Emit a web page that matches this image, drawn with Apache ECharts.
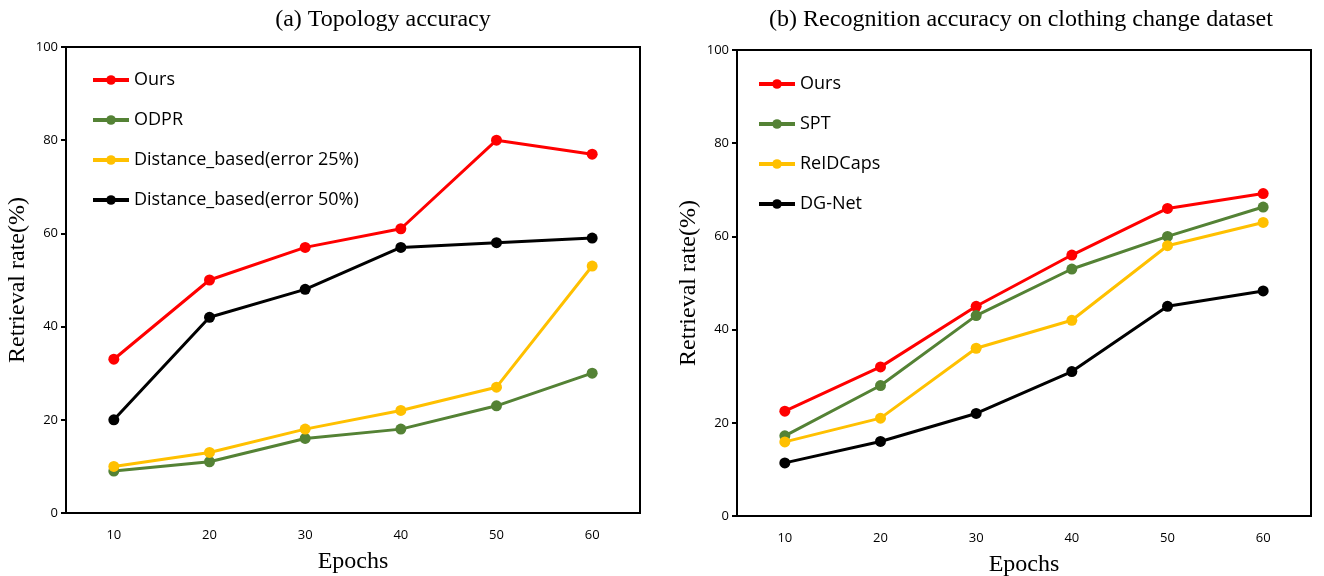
<!DOCTYPE html>
<html>
<head>
<meta charset="utf-8">
<script src="https://cdn.jsdelivr.net/npm/echarts@6/dist/echarts.min.js"></script>
<style>
  html, body { margin: 0; padding: 0; background: #fff; }
  #graph { width: 1324px; height: 576px; }
</style>
</head>
<body>
<div id="graph"></div>
<script>
// epochs shared by both panels
var epochs = ['10', '20', '30', '40', '50', '60'];
var yTicks = [0, 20, 40, 60, 80, 100];

// (a) Topology accuracy
var topoOurs = [33, 50, 57, 61, 80, 77];
var topoODPR = [9, 11, 16, 18, 23, 30];
var topoDist25 = [10, 13, 18, 22, 27, 53];
var topoDist50 = [20, 42, 48, 57, 58, 59];

// (b) Recognition accuracy on clothing change dataset
var recOurs = [22.5, 32, 45, 56, 66, 69.2];
var recSPT = [17.2, 28, 43, 53, 60, 66.3];
var recReID = [15.9, 21, 36, 42, 58, 63];
var recDGNet = [11.4, 16, 22, 31, 45, 48.3];

var RED = '#ff0000', GREEN = '#548235', YELLOW = '#ffc000', BLACK = '#000000';
var serif = '"Liberation Serif", "Times New Roman", serif';
var sans = '"Open Sans", "Noto Sans", sans-serif';

var myChart = echarts.init(document.getElementById('graph'));

function makeX(idx) {
  return {
    type: 'category', gridIndex: idx, data: epochs, boundaryGap: true,
    name: 'Epochs', nameLocation: 'middle', nameGap: 37,
    nameTextStyle: { fontFamily: serif, fontSize: 24, color: '#000' },
    axisLine: { lineStyle: { color: '#000', width: 2 } },
    axisTick: { alignWithLabel: true, length: 5, lineStyle: { color: '#000', width: 2 } },
    axisLabel: { fontFamily: sans, fontSize: 13, color: '#000', margin: 16 },
    splitLine: { show: false }
  };
}
function makeY(idx) {
  return {
    type: 'value', gridIndex: idx, min: yTicks[0], max: yTicks[yTicks.length - 1], interval: 20,
    name: 'Retrieval rate(%)', nameLocation: 'middle', nameGap: 36,
    nameTextStyle: { fontFamily: serif, fontSize: 24, color: '#000' },
    axisLine: { show: true, lineStyle: { color: '#000', width: 2 } },
    axisTick: { show: true, length: 5, lineStyle: { color: '#000', width: 2 } },
    axisLabel: { fontFamily: sans, fontSize: 13, color: '#000', margin: 8 },
    splitLine: { show: false }
  };
}
function makeLine(name, data, color, idx) {
  return {
    name: name, type: 'line', data: data, xAxisIndex: idx, yAxisIndex: idx,
    symbol: 'circle', symbolSize: 11,
    itemStyle: { color: color },
    lineStyle: { color: color, width: 3 },
    emphasis: { disabled: true }, animation: false
  };
}
function makeLegend(names, left, top) {
  return {
    data: names, orient: 'vertical', left: left, top: top,
    itemWidth: 36, itemHeight: 12, itemGap: 20,
    lineStyle: { width: 4 },
    textStyle: { fontFamily: sans, fontSize: 18, color: '#000', lineHeight: 20 }
  };
}

var option = {
  animation: false,
  title: [
    { text: '(a) Topology accuracy', left: 378, top: 3, textAlign: 'center',
      textStyle: { fontFamily: serif, fontSize: 24, fontWeight: 'normal', color: '#000' } },
    { text: '(b) Recognition accuracy on clothing change dataset', left: 1016, top: 3, textAlign: 'center',
      textStyle: { fontFamily: serif, fontSize: 24, fontWeight: 'normal', color: '#000' } }
  ],
  legend: [
    makeLegend(['Ours', 'ODPR', 'Distance_based(error 25%)', 'Distance_based(error 50%)'], 86, 65),
    makeLegend(['Ours ', 'SPT', 'ReIDCaps', 'DG-Net'], 752, 69)
  ],
  grid: [
    { left: 66, right: 684, top: 47, bottom: 63, show: true, borderColor: '#000', borderWidth: 2,
      outerBoundsMode: 'none' },
    { left: 737, right: 13, top: 50, bottom: 60, show: true, borderColor: '#000', borderWidth: 2,
      outerBoundsMode: 'none' }
  ],
  xAxis: [makeX(0), makeX(1)],
  yAxis: [makeY(0), makeY(1)],
  series: [
    makeLine('Ours', topoOurs, RED, 0),
    makeLine('ODPR', topoODPR, GREEN, 0),
    makeLine('Distance_based(error 25%)', topoDist25, YELLOW, 0),
    makeLine('Distance_based(error 50%)', topoDist50, BLACK, 0),
    makeLine('Ours ', recOurs, RED, 1),
    makeLine('SPT', recSPT, GREEN, 1),
    makeLine('ReIDCaps', recReID, YELLOW, 1),
    makeLine('DG-Net', recDGNet, BLACK, 1)
  ]
};
myChart.setOption(option);
</script>
</body>
</html>
